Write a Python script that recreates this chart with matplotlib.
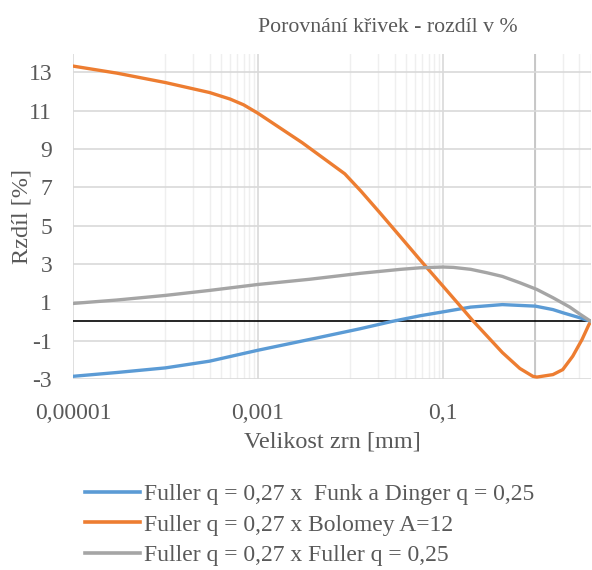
import matplotlib
matplotlib.use("Agg")
import matplotlib.pyplot as plt
from matplotlib.ticker import FixedLocator, FixedFormatter, NullLocator

plt.rcParams['font.family'] = ['Liberation Serif', 'DejaVu Serif']
plt.rcParams['axes.unicode_minus'] = False

# zrno [mm] a rozdíly [%]
x_blue = [1e-5, 3e-5, 1e-4, 3e-4, 1e-3, 3.6e-3, 1.27e-2, 2.8e-2, 0.057, 0.1, 0.2,
          0.44, 1.0, 1.55, 2.0, 3.0, 4.0]
y_blue = [-2.86, -2.66, -2.42, -2.07, -1.50, -0.94, -0.38, 0.0, 0.3, 0.5, 0.75,
          0.88, 0.8, 0.62, 0.45, 0.2, 0.0]

x_orange = [1e-5, 3e-5, 1e-4, 3e-4, 5e-4, 7e-4, 1e-3, 3e-3, 8.7e-3, 1.3e-2, 2.1e-2,
            3.5e-2, 5.7e-2, 0.1, 0.15, 0.21, 0.32, 0.44, 0.68, 0.94, 1.04, 1.55,
            1.98, 2.54, 3.2, 3.8, 4.0]
y_orange = [13.32, 12.95, 12.46, 11.94, 11.6, 11.3, 10.86, 9.33, 7.7, 6.8, 5.65,
            4.4, 3.2, 1.85, 0.87, 0.05, -0.9, -1.62, -2.45, -2.86, -2.9, -2.77,
            -2.51, -1.81, -0.94, -0.16, 0.0]

x_gray = [1e-5, 3e-5, 1e-4, 3e-4, 1e-3, 3.6e-3, 1.27e-2, 3.5e-2, 0.057, 0.1, 0.13,
          0.2, 0.3, 0.44, 0.68, 1.04, 1.55, 2.36, 3.0, 4.0]
y_gray = [0.94, 1.12, 1.36, 1.62, 1.93, 2.2, 2.51, 2.72, 2.8, 2.84, 2.82,
          2.72, 2.54, 2.35, 2.02, 1.67, 1.24, 0.75, 0.4, 0.0]

labels = ["Fuller q = 0,27 x  Funk a Dinger q = 0,25",
          "Fuller q = 0,27 x Bolomey A=12",
          "Fuller q = 0,27 x Fuller q = 0,25"]
colors = ["#5b9bd5", "#ed7d31", "#a5a5a5"]

x_ticks = [1e-5, 1e-3, 1e-1]
x_ticklabels = ["0,00001", "0,001", "0,1"]
y_ticks = [-3, -1, 1, 3, 5, 7, 9, 11, 13]

text_col = "#595959"

fig = plt.figure(figsize=(5.92, 5.70), dpi=100)
ax = fig.add_axes([73 / 592, 1 - 379 / 570, 518 / 592, (379 - 54) / 570])
ax.set_xscale("log")
ax.set_xlim(1e-5, 4.0)
ax.set_ylim(-3, 13.95)

# mřížka
for e in [-4, -2, 0]:
    for k in range(1, 10):
        v = k * 10.0 ** e
        if v <= 4.0:
            ax.axvline(v, color="#efefef", lw=1.0, zorder=0)
for v in x_ticks:
    ax.axvline(v, color="#d9d9d9", lw=1.2, zorder=0)
ax.axvline(1.0, color="#bfbfbf", lw=1.2, zorder=0)
for v in y_ticks:
    ax.axhline(v, color="#d9d9d9", lw=1.2, zorder=0)
ax.axhline(0, color="black", lw=1.2, zorder=1)

ax.plot(x_blue, y_blue, color=colors[0], lw=2.4, label=labels[0], zorder=3)
ax.plot(x_orange, y_orange, color=colors[1], lw=2.4, label=labels[1], zorder=3)
ax.plot(x_gray, y_gray, color=colors[2], lw=2.4, label=labels[2], zorder=3)

ax.xaxis.set_major_locator(FixedLocator(x_ticks))
ax.xaxis.set_major_formatter(FixedFormatter(x_ticklabels))
ax.xaxis.set_minor_locator(NullLocator())
ax.set_yticks(y_ticks)
ax.tick_params(axis="x", length=0, labelsize=17, colors=text_col, pad=17)
ax.tick_params(axis="y", length=0, labelsize=17, colors=text_col, pad=15)
for s in ax.spines.values():
    s.set_visible(False)

ax.set_xlabel("Velikost zrn [mm]", fontsize=17.5, color=text_col, labelpad=6)
ax.set_ylabel("Rzdíl [%]", fontsize=17.5, color=text_col)
ax.yaxis.set_label_coords(-0.079, 0.5)
fig.text(518 / 592, 1 - 28 / 570, "Porovnání křivek - rozdíl v %", fontsize=15.7,
         color=text_col, ha="right", va="center")

leg = fig.legend(loc="upper left", bbox_to_anchor=(76 / 592, 1 - 474 / 570),
                 frameon=False, fontsize=17, handlelength=2.3, handletextpad=0.17,
                 labelspacing=0.39, borderaxespad=0)
for t in leg.get_texts():
    t.set_color(text_col)
for h in leg.get_lines():
    h.set_linewidth(2.6)

fig.savefig("out.png", dpi=100)
